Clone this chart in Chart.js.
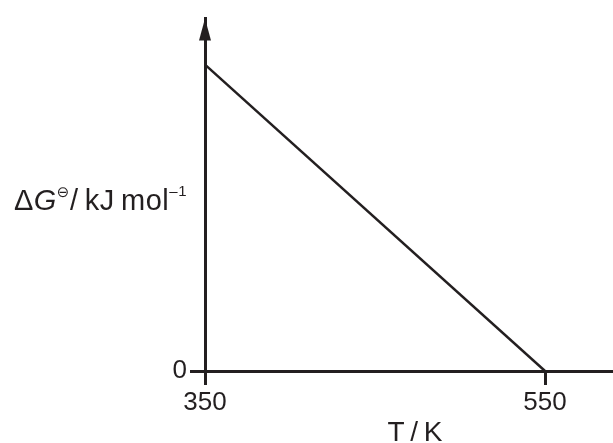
<!DOCTYPE html>
<html>
<head>
<meta charset="utf-8">
<script src="https://cdn.jsdelivr.net/npm/chart.js@4/dist/chart.umd.min.js"></script>
<style>
  html, body { margin: 0; padding: 0; background: #fff; }
  #wrap { width: 613px; height: 443px; position: relative; }
</style>
</head>
<body>
<div id="wrap"><canvas id="chart"></canvas></div>
<script>
// --- data ---
const temps = [350, 550];       // T / K
const deltaG = [100, 0];        // arbitrary units, only 0 is labelled
const xTickValues = [350, 550];
const yTickValues = [0];

const INK = '#231f20';
const FONT = 'Liberation Sans, Arial, sans-serif';

// arrow head on the y axis plus the two axis titles
const axisDecor = {
  id: 'axisDecor',
  afterDraw(chart) {
    const ctx = chart.ctx;
    const x0 = chart.scales.x.left;
    const top = chart.chartArea.top;
    ctx.save();
    ctx.fillStyle = INK;

    // arrow
    ctx.beginPath();
    ctx.moveTo(x0, top);
    ctx.lineTo(x0 - 6, top + 22);
    ctx.lineTo(x0 + 6, top + 22);
    ctx.closePath();
    ctx.fill();

    // y title: ΔG⊖ / kJ mol–1 (horizontal)
    ctx.letterSpacing = '0.5px';
    const parts = [
      { t: 'Δ', f: '29px ' + FONT, dy: 0 },
      { t: 'G', f: 'italic 29px ' + FONT, dy: 0 },
      { t: '⊖', f: '15px DejaVu Sans', dy: -13 },
      { t: '/\u2009kJ\u2009mol', f: '29px ' + FONT, dy: 0 },
      { t: '–1', f: '15px ' + FONT, dy: -14 }
    ];
    let total = 0;
    parts.forEach(p => { ctx.font = p.f; p.w = ctx.measureText(p.t).width; total += p.w; });
    let x = 187 - total;
    const base = 210;
    ctx.textBaseline = 'alphabetic';
    ctx.textAlign = 'left';
    parts.forEach(p => {
      ctx.font = p.f;
      ctx.fillText(p.t, x, base + p.dy);
      x += p.w;
    });
    ctx.letterSpacing = '0px';

    // x title
    ctx.font = '28px ' + FONT;
    ctx.textAlign = 'center';
    ctx.fillText('T\u2009/\u2009K', 415, 441);
    ctx.restore();
  }
};

new Chart(document.getElementById('chart'), {
  type: 'line',
  data: {
    datasets: [{
      data: temps.map((t, i) => ({ x: t, y: deltaG[i] })),
      borderColor: INK,
      borderWidth: 2.5,
      pointRadius: 0,
      fill: false,
      tension: 0
    }]
  },
  options: {
    responsive: true,
    maintainAspectRatio: false,
    animation: false,
    layout: { padding: { top: 13, right: 0, left: 0, bottom: 0 } },
    plugins: { legend: { display: false }, tooltip: { enabled: false } },
    scales: {
      x: {
        type: 'linear',
        min: 350,
        max: 590,
        afterBuildTicks(scale) { scale.ticks = xTickValues.map(v => ({ value: v })); },
        afterFit(scale) { scale.height = 72; },
        border: { display: true, color: INK, width: 3 },
        grid: { drawOnChartArea: false, drawTicks: true, tickLength: 14, color: INK, lineWidth: 3 },
        ticks: { color: INK, font: { family: FONT, size: 26 }, padding: 2, maxRotation: 0 }
      },
      y: {
        type: 'linear',
        min: 0,
        max: 115,
        afterBuildTicks(scale) { scale.ticks = yTickValues.map(v => ({ value: v })); },
        afterFit(scale) { scale.width = 205; },
        border: { display: true, color: INK, width: 3 },
        grid: { drawOnChartArea: false, drawTicks: true, tickLength: 15, color: INK, lineWidth: 3 },
        ticks: { color: INK, font: { family: FONT, size: 26 }, padding: 3 }
      }
    }
  },
  plugins: [axisDecor]
});
</script>
</body>
</html>
